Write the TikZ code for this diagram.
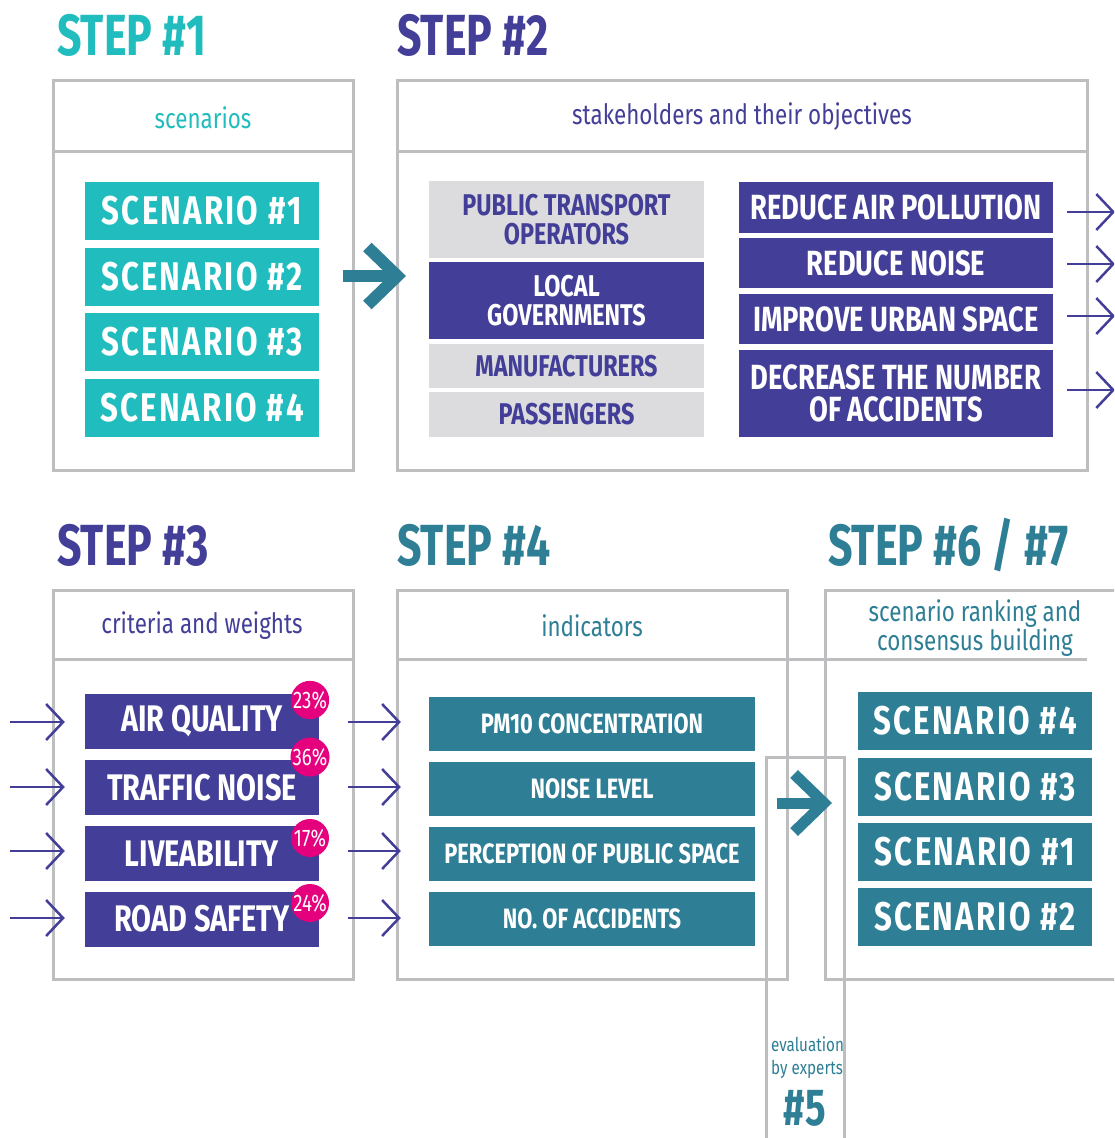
\documentclass[tikz,border=0pt]{standalone}
\usepackage{fontspec}
\setmainfont{Fira Sans}
\newfontfamily\tfont[FakeStretch=0.74]{Fira Sans}
\newfontfamily\bfont[FakeStretch=0.78]{Fira Sans}
\newfontfamily\sfont[FakeStretch=0.78,LetterSpace=5.5]{Fira Sans}
\newfontfamily\lfont[FakeStretch=0.8]{Fira Sans}
\usetikzlibrary{arrows.meta}
\definecolor{tealA}{HTML}{21BDBE}
\definecolor{purp}{HTML}{433F98}
\definecolor{dteal}{HTML}{2E7F95}
\definecolor{mag}{HTML}{E5007E}
\definecolor{gline}{HTML}{BEBEC1}
\definecolor{lgray}{HTML}{DCDCDE}
\tikzset{
  frame/.style={draw=gline, line width=3pt},
  title/.style={anchor=base west, inner sep=0, font=\tfont\bfseries\fontsize{58}{58}\selectfont},
  hdr/.style={inner sep=0, align=center, font=\lfont\fontsize{28}{27}\selectfont},
  bx/.style={inner sep=0, align=center, text=white, font=\bfont\bfseries},
  scen/.style={bx, minimum width=234, minimum height=58, font=\sfont\bfseries\fontsize{40}{40}\selectfont},
  stk/.style={bx, minimum width=275, font=\bfont\bfseries\fontsize{30}{29}\selectfont},
  obj/.style={bx, fill=purp, minimum width=314, font=\bfont\bfseries\fontsize{35}{32}\selectfont},
  crit/.style={bx, fill=purp, minimum width=234, minimum height=55, font=\bfont\bfseries\fontsize{37}{37}\selectfont},
  ind/.style={bx, fill=dteal, minimum width=326, minimum height=54, font=\bfont\bfseries\fontsize{28}{28}\selectfont},
  pct/.style={circle, fill=mag, text=white, minimum size=38, inner sep=0, font=\bfont\fontsize{24}{24}\selectfont},
  thin/.style={draw=purp, line width=2.5pt, -{Straight Barb[length=17pt,width=36pt]}},
  thick/.style={draw=dteal, line width=12pt, -{Straight Barb[length=30pt,width=58pt,sharp]}}
}
\begin{document}
\begin{tikzpicture}[x=1pt,y=-1pt]
\useasboundingbox (0,0) rectangle (1114,1138);
\fill[white] (0,0) rectangle (1114,1138);
\clip (0,0) rectangle (1114,1138);

% titles
\node[title, text=tealA] (t1) at (57,55) {STEP \#1};
\node[title, text=purp] (t2) at (397,55) {STEP \#2};
\node[title, text=purp] (t3) at (57,565) {STEP \#3};
\node[title, text=dteal] (t4) at (397,565) {STEP \#4};
\node[title, text=dteal] (t6) at (828,565) {STEP \#6 / \#7};

% frames
\draw[frame] (53,80) rectangle (353,470);
\draw[frame] (53,151) -- (353,151);
\draw[frame] (397,80) rectangle (1087,470);
\draw[frame] (397,151) -- (1087,151);
\draw[frame] (53,590) rectangle (353,979);
\draw[frame] (53,659) -- (353,659);
\draw[frame] (397,590) rectangle (787,979);
\draw[frame] (397,659) -- (1087,659);
\draw[frame] (1130,590) -- (825,590) -- (825,979) -- (1130,979);
\draw[frame] (766,1150) -- (766,757) -- (844,757) -- (844,1150);

% headers
\node[hdr, text=tealA] (h1) at (203,118) {scenarios};
\node[hdr, text=purp] (h2) at (742,117) {stakeholders and their objectives};
\node[hdr, text=purp] (h3) at (202,626) {criteria and weights};
\node[hdr, text=dteal] (h4) at (592,626) {indicators};
\node[hdr, text=dteal] (h6) at (975,628) {scenario ranking and\\consensus building};

% step 1
\node[scen, fill=tealA] (s1) at (202,211) {SCENARIO \#1};
\node[scen, fill=tealA] (s2) at (202,276.5) {SCENARIO \#2};
\node[scen, fill=tealA] (s3) at (202,341.5) {SCENARIO \#3};
\node[scen, fill=tealA] (s4) at (202,407.5) {SCENARIO \#4};

% step 2
\node[stk, fill=lgray, text=purp, minimum height=77] (k1) at (566.5,219.5) {PUBLIC TRANSPORT\\OPERATORS};
\node[stk, fill=purp, minimum height=77] (k2) at (566.5,300.5) {LOCAL\\GOVERNMENTS};
\node[stk, fill=lgray, text=purp, minimum height=44] (k3) at (566.5,366) {MANUFACTURERS};
\node[stk, fill=lgray, text=purp, minimum height=45] (k4) at (566.5,414.5) {PASSENGERS};

\node[obj, minimum height=51] (o1) at (896,207.5) {REDUCE AIR POLLUTION};
\node[obj, minimum height=50] (o2) at (896,263) {REDUCE NOISE};
\node[obj, minimum height=50] (o3) at (896,319) {IMPROVE URBAN SPACE};
\node[obj, minimum height=87] (o4) at (896,393.5) {DECREASE THE NUMBER\\OF ACCIDENTS};

\coordinate (oe1) at (1115,212);
\coordinate (oe2) at (1115,264);
\coordinate (oe3) at (1115,316);
\coordinate (oe4) at (1115,390);
\draw[thin] (o1.east |- oe1) ++(14,0) -- (oe1);
\draw[thin] (o2.east |- oe2) ++(14,0) -- (oe2);
\draw[thin] (o3.east |- oe3) ++(14,0) -- (oe3);
\draw[thin] (o4.east |- oe4) ++(14,0) -- (oe4);

% step 3
\node[crit] (c1) at (202,721.5) {AIR QUALITY};
\node[crit] (c2) at (202,787.5) {TRAFFIC NOISE};
\node[crit] (c3) at (202,853.5) {LIVEABILITY};
\node[crit] (c4) at (202,919) {ROAD SAFETY};
\node[pct] (p1) at (310,700) {23\%};
\node[pct] (p2) at (310,757) {36\%};
\node[pct] (p3) at (310,838) {17\%};
\node[pct] (p4) at (310,903) {24\%};

\coordinate (ls1) at (10,722);
\coordinate (ls2) at (10,787);
\coordinate (ls3) at (10,851);
\coordinate (ls4) at (10,918);
\draw[thin] (ls1) -- ([xshift=-20]c1.west |- ls1);
\draw[thin] (ls2) -- ([xshift=-20]c2.west |- ls2);
\draw[thin] (ls3) -- ([xshift=-20]c3.west |- ls3);
\draw[thin] (ls4) -- ([xshift=-20]c4.west |- ls4);

% step 4
\node[ind] (i1) at (592,723.5) {PM10 CONCENTRATION};
\node[ind] (i2) at (592,789) {NOISE LEVEL};
\node[ind] (i3) at (592,854) {PERCEPTION OF PUBLIC SPACE};
\node[ind] (i4) at (592,919) {NO. OF ACCIDENTS};

\draw[thin] ([xshift=29]c1.east |- ls1) -- ([xshift=-28]i1.west |- ls1);
\draw[thin] ([xshift=29]c2.east |- ls2) -- ([xshift=-28]i2.west |- ls2);
\draw[thin] ([xshift=29]c3.east |- ls3) -- ([xshift=-28]i3.west |- ls3);
\draw[thin] ([xshift=29]c4.east |- ls4) -- ([xshift=-28]i4.west |- ls4);

% step 6/7
\node[scen, fill=dteal] (r4) at (975,721) {SCENARIO \#4};
\node[scen, fill=dteal] (r3) at (975,786.5) {SCENARIO \#3};
\node[scen, fill=dteal] (r1) at (975,851.5) {SCENARIO \#1};
\node[scen, fill=dteal] (r2) at (975,916.5) {SCENARIO \#2};

% step 5
\node[inner sep=0, anchor=west, align=left, text=dteal, font=\lfont\fontsize{19}{23}\selectfont] (e5) at (771,1058) {evaluation\\by experts};
\node[inner sep=0, anchor=base, text=dteal, font=\tfont\bfseries\fontsize{52}{52}\selectfont] (n5) at (805,1125) {\#5};

% thick arrows
\coordinate (a1s) at (343,276);
\coordinate (a1e) at (406,276);
\draw[thick] (a1s) -- (a1e);
\coordinate (a2s) at (777,803);
\coordinate (a2e) at (832,803);
\draw[thick, line width=11pt] (a2s) -- (a2e);
\end{tikzpicture}
\end{document}
